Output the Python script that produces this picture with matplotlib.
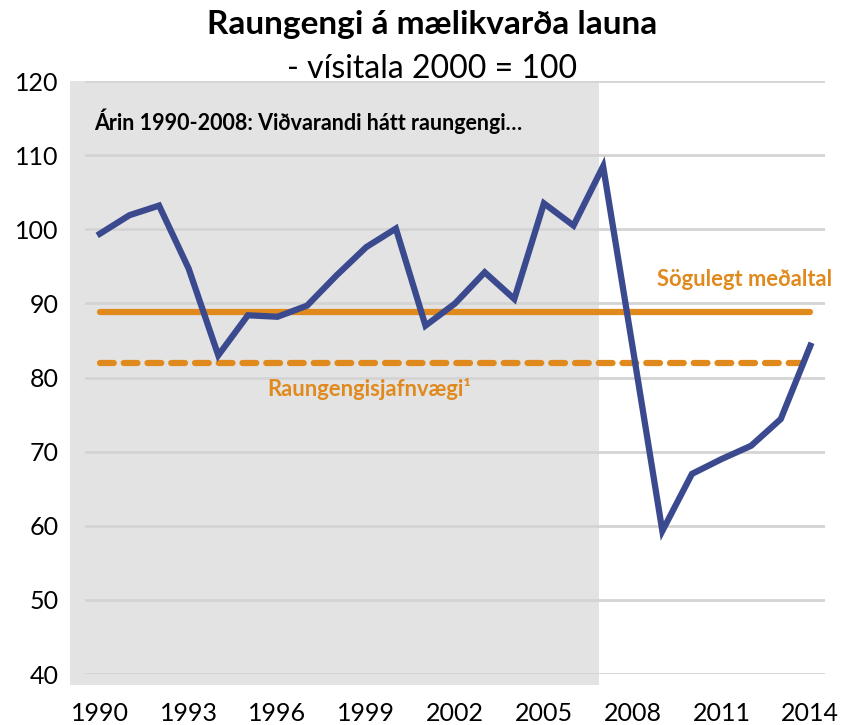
import matplotlib.pyplot as plt
from matplotlib.patches import Rectangle

# data (index, 2000 = 100)
years = [1990, 1991, 1992, 1993, 1994, 1995, 1996, 1997, 1998, 1999, 2000, 2001, 2002,
         2003, 2004, 2005, 2006, 2007, 2008, 2009, 2010, 2011, 2012, 2013, 2014]
raungengi = [99.4, 101.9, 103.2, 94.7, 83.0, 88.4, 88.2, 89.7, 93.8, 97.6, 100.1, 87.0, 90.0,
             94.2, 90.6, 103.5, 100.5, 108.5, 84.0, 59.3, 67.0, 69.0, 70.8, 74.4, 84.3]
medaltal = 88.8
jafnvaegi = 82.0
xticks = [1990, 1993, 1996, 1999, 2002, 2005, 2008, 2011, 2014]
yticks = [40, 50, 60, 70, 80, 90, 100, 110, 120]

plt.rcParams['font.family'] = ['Lato', 'DejaVu Sans']

blue = '#3B4A8F'
orange = '#E08A1E'

fig = plt.figure(figsize=(8.42, 7.25), dpi=100)
ax = fig.add_axes([0.101, 0.0703, 0.879, 0.8179])

# grey shaded period
ax.add_patch(Rectangle((1988.98, 38.5), 2006.85 - 1988.98, 120 - 38.5,
                       facecolor='#E3E3E3', edgecolor='none', zorder=0, clip_on=False))

for y in yticks:
    ax.axhline(y, color='#D4D4D4', lw=2, zorder=1)

ax.plot([years[0], years[-1]], [medaltal, medaltal], color=orange, lw=4.5,
        solid_capstyle='round', zorder=2)
ax.plot([years[0], years[-1]], [jafnvaegi, jafnvaegi], color=orange, lw=4.5,
        dashes=(2.2, 1.6), dash_capstyle='round', zorder=2)
ax.plot(years, raungengi, color=blue, lw=4.5, solid_joinstyle='miter', zorder=3)

ax.set_xlim(1989.5, 2014.5)
ax.set_ylim(40, 120)
ax.set_xticks(xticks)
ax.set_yticks(yticks)
ax.tick_params(length=0, labelsize=18)
ax.tick_params(axis='x', pad=20)
ax.tick_params(axis='y', pad=19)
for s in ax.spines.values():
    s.set_visible(False)
ax.patch.set_alpha(0)

ax.text(1990 - 0.2, 114.6, 'Árin 1990-2008: Viðvarandi hátt raungengi…', fontsize=15.5,
        fontweight='bold', ha='left', va='center', color='black')
ax.text(2014.75, 93.2, 'Sögulegt meðaltal', fontsize=15.8, fontweight='bold', color=orange,
        ha='right', va='center', clip_on=False)
ax.text(1999.1, 78.4, 'Raungengisjafnvægi¹', fontsize=15.8, fontweight='bold', color=orange,
        ha='center', va='center')

fig.text(0.513, 0.966, 'Raungengi á mælikvarða launa', fontsize=24, fontweight='bold',
         ha='center', va='center')
fig.text(0.513, 0.905, '- vísitala 2000 = 100', fontsize=23, ha='center', va='center')

fig.savefig('out.png', dpi=100)
